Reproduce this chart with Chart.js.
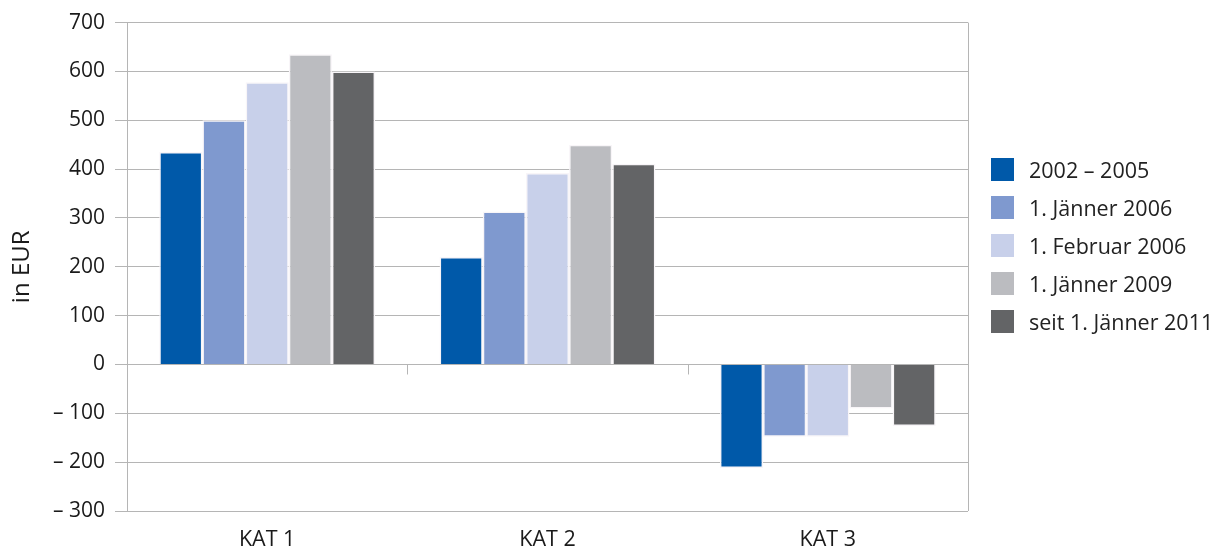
<!DOCTYPE html>
<html>
<head>
<meta charset="utf-8">
<script src="https://cdn.jsdelivr.net/npm/chart.js@4/dist/chart.umd.min.js"></script>
<style>
  html, body { margin: 0; padding: 0; background: #fff; }
  #wrap { position: relative; width: 1219px; height: 546px; }
  #legend { position: absolute; left: 991px; top: 158px; font-family: "Open Sans", sans-serif; font-size: 21.5px; color: #222; }
  .item { display: flex; align-items: center; height: 23px; margin-bottom: 15px; white-space: nowrap; }
  .box { width: 23px; height: 23px; margin-right: 15px; }
</style>
</head>
<body>
<div id="wrap">
  <canvas id="bar-chart" width="1219" height="546"></canvas>
  <div id="legend"></div>
</div>
<script>
var categories = ["KAT 1", "KAT 2", "KAT 3"];
var seriesNames = ["2002 – 2005", "1. Jänner 2006", "1. Februar 2006", "1. Jänner 2009", "seit 1. Jänner 2011"];
var seriesColors = ["#0059a9", "#7f99cf", "#c8d0ea", "#bbbcc0", "#636466"];
var s2002 = [435, 220, -212];
var s2006jan = [500, 313, -148];
var s2006feb = [578, 392, -148];
var s2009 = [635, 450, -90];
var s2011 = [600, 411, -126];
var seriesValues = [s2002, s2006jan, s2006feb, s2009, s2011];

var fontFamily = '"Open Sans", sans-serif';
var gridColor = '#b5b5b5';

// small ticks on the zero line between categories + right frame line
var frame = {
  id: 'frame',
  beforeDatasetsDraw: function(chart) {
    var ctx = chart.ctx, x = chart.scales.x, y = chart.scales.y, a = chart.chartArea;
    var y0 = y.getPixelForValue(0);
    ctx.save();
    ctx.strokeStyle = gridColor;
    ctx.lineWidth = 1;
    ctx.beginPath();
    for (var i = 1; i < categories.length; i++) {
      var xb = Math.round((x.getPixelForValue(i - 1) + x.getPixelForValue(i)) / 2) + 0.5;
      ctx.moveTo(xb, y0);
      ctx.lineTo(xb, y0 + 10);
    }
    ctx.moveTo(Math.round(a.right) + 0.5, a.top);
    ctx.lineTo(Math.round(a.right) + 0.5, a.bottom);
    ctx.stroke();
    ctx.restore();
  }
};

new Chart(document.getElementById("bar-chart"), {
  type: 'bar',
  data: {
    labels: categories,
    datasets: seriesValues.map(function(vals, i) {
      return {
        label: seriesNames[i],
        data: vals,
        backgroundColor: seriesColors[i],
        borderColor: '#f8f5f8',
        borderWidth: 1.5
      };
    })
  },
  options: {
    responsive: false,
    animation: false,
    categoryPercentage: 0.77,
    barPercentage: 1,
    layout: { padding: { top: 5, right: 251, left: 0, bottom: 0 } },
    plugins: {
      legend: { display: false },
      tooltip: { enabled: false }
    },
    scales: {
      x: {
        grid: { display: false },
        border: { display: false },
        ticks: { color: '#1a1a1a', font: { family: fontFamily, size: 21.5 }, padding: 8 },
        afterFit: function(scale) { scale.height = 35; }
      },
      y: {
        min: -300,
        max: 700,
        ticks: {
          stepSize: 100,
          color: '#1a1a1a',
          font: { family: fontFamily, size: 21 },
          padding: 10,
          callback: function(v) { return v < 0 ? '– ' + Math.abs(v) : String(v); }
        },
        grid: { color: gridColor, tickColor: gridColor, tickLength: 12 },
        border: { color: gridColor },
        title: {
          display: true,
          text: 'in EUR',
          color: '#1a1a1a',
          font: { family: fontFamily, size: 24 },
          padding: { top: 8, bottom: 0 }
        },
        afterFit: function(scale) { scale.width = 127; }
      }
    }
  },
  plugins: [frame]
});

var legend = document.getElementById('legend');
seriesNames.forEach(function(name, i) {
  var row = document.createElement('div');
  row.className = 'item';
  var box = document.createElement('span');
  box.className = 'box';
  box.style.background = seriesColors[i];
  var txt = document.createElement('span');
  txt.textContent = name;
  row.appendChild(box);
  row.appendChild(txt);
  legend.appendChild(row);
});
</script>
</body>
</html>
